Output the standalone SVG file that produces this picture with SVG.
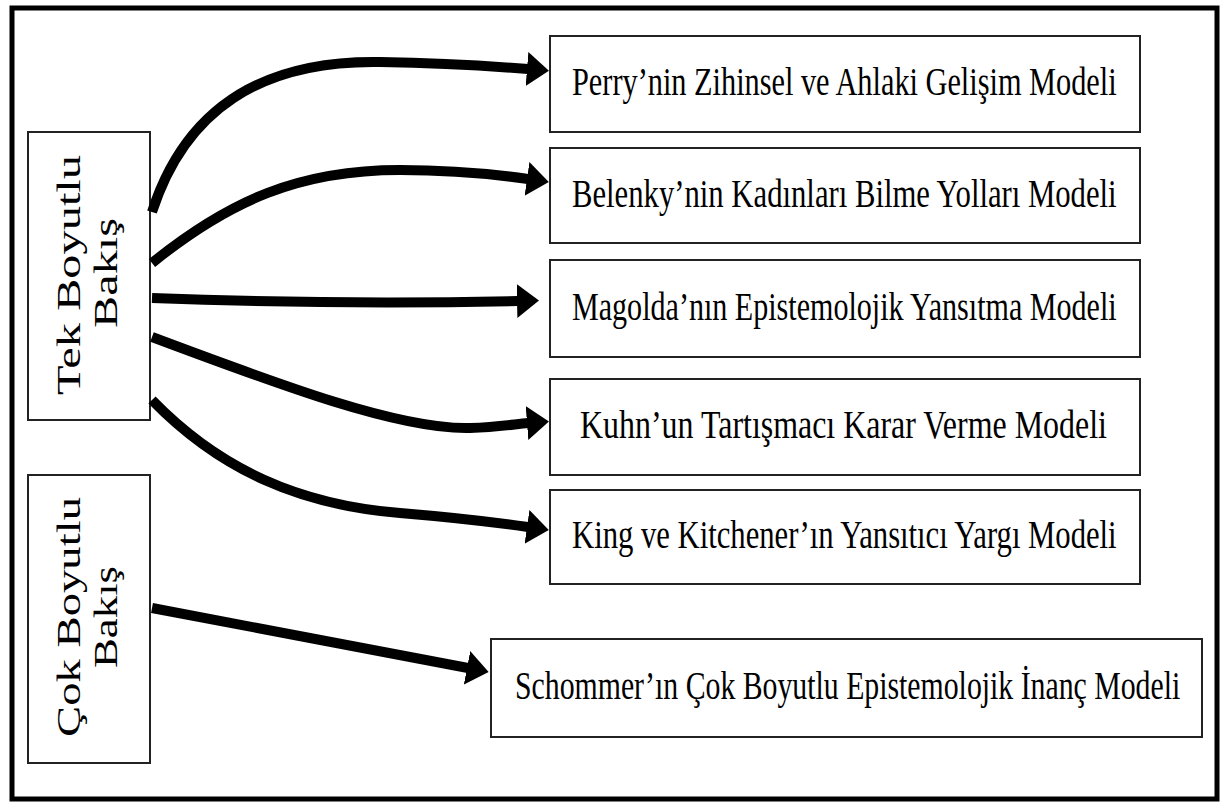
<svg xmlns="http://www.w3.org/2000/svg" width="1227" height="803" viewBox="0 0 1227 803">
<style>
.frame{fill:#fff;stroke:#000;stroke-width:5}
.box{fill:#fff;stroke:#222;stroke-width:2}
.t{font-family:"Liberation Serif","Times New Roman",serif;font-size:41px;fill:#000}
.v{font-family:"Liberation Serif","Times New Roman",serif;font-size:33px;fill:#000;text-anchor:middle}
.c{fill:none;stroke:#000;stroke-width:10}
</style>
<defs>
<marker id="ah" markerUnits="userSpaceOnUse" markerWidth="24" markerHeight="36" refX="1" refY="17" orient="auto">
<path d="M0,0 L22,17 L0,34 z" fill="#000"/>
</marker>
</defs>
<rect class="frame" x="12" y="8" width="1205" height="791"/>
<g id="tek">
<rect class="box" x="28" y="132" width="122" height="288"/>
<text class="v" transform="translate(80,275) rotate(-90)" textLength="240" lengthAdjust="spacingAndGlyphs">Tek Boyutlu</text>
<text class="v" transform="translate(117,273) rotate(-90)" textLength="110" lengthAdjust="spacingAndGlyphs">Bakış</text>
</g>
<g id="cok">
<rect class="box" x="28" y="475" width="122" height="288"/>
<text class="v" transform="translate(80,617) rotate(-90)" textLength="240" lengthAdjust="spacingAndGlyphs">Çok Boyutlu</text>
<text class="v" transform="translate(117,617) rotate(-90)" textLength="102" lengthAdjust="spacingAndGlyphs">Bakış</text>
</g>
<g id="perry">
<rect class="box" x="550" y="36" width="590" height="96"/>
<text class="t" transform="translate(572,95) scale(0.74,1)" textLength="736" lengthAdjust="spacingAndGlyphs">Perry’nin Zihinsel ve Ahlaki Gelişim Modeli</text>
</g>
<g id="belenky">
<rect class="box" x="550" y="148" width="590" height="95"/>
<text class="t" transform="translate(572,207) scale(0.74,1)" textLength="736" lengthAdjust="spacingAndGlyphs">Belenky’nin Kadınları Bilme Yolları Modeli</text>
</g>
<g id="magolda">
<rect class="box" x="550" y="260" width="590" height="97"/>
<text class="t" transform="translate(572,320) scale(0.74,1)" textLength="736" lengthAdjust="spacingAndGlyphs">Magolda’nın Epistemolojik Yansıtma Modeli</text>
</g>
<g id="kuhn">
<rect class="box" x="550" y="379" width="590" height="96"/>
<text class="t" transform="translate(580,438) scale(0.74,1)" textLength="712" lengthAdjust="spacingAndGlyphs">Kuhn’un Tartışmacı Karar Verme Modeli</text>
</g>
<g id="king">
<rect class="box" x="550" y="490" width="590" height="94"/>
<text class="t" transform="translate(572,548) scale(0.74,1)" textLength="736" lengthAdjust="spacingAndGlyphs">King ve Kitchener’ın Yansıtıcı Yargı Modeli</text>
</g>
<g id="schommer">
<rect class="box" x="491" y="639" width="711" height="98"/>
<text class="t" transform="translate(515,699) scale(0.74,1)" textLength="899" lengthAdjust="spacingAndGlyphs">Schommer’ın Çok Boyutlu Epistemolojik İnanç Modeli</text>
</g>
<g id="connectors">
<path class="c" marker-end="url(#ah)" d="M152,212 C185,110 260,60 380,62 C440,63 490,66 528,69"/>
<path class="c" marker-end="url(#ah)" d="M152,263 C230,200 300,170 400,170 C460,170 500,175 528,179"/>
<path class="c" marker-end="url(#ah)" d="M152,298 Q340,305 518,301"/>
<path class="c" marker-end="url(#ah)" d="M152,337 C280,385 400,430 470,428 C500,427 515,424 528,423"/>
<path class="c" marker-end="url(#ah)" d="M152,400 C220,470 300,505 400,513 C460,518 500,523 528,527"/>
<path class="c" marker-end="url(#ah)" d="M152,608 L468,668"/>
</g>
</svg>
